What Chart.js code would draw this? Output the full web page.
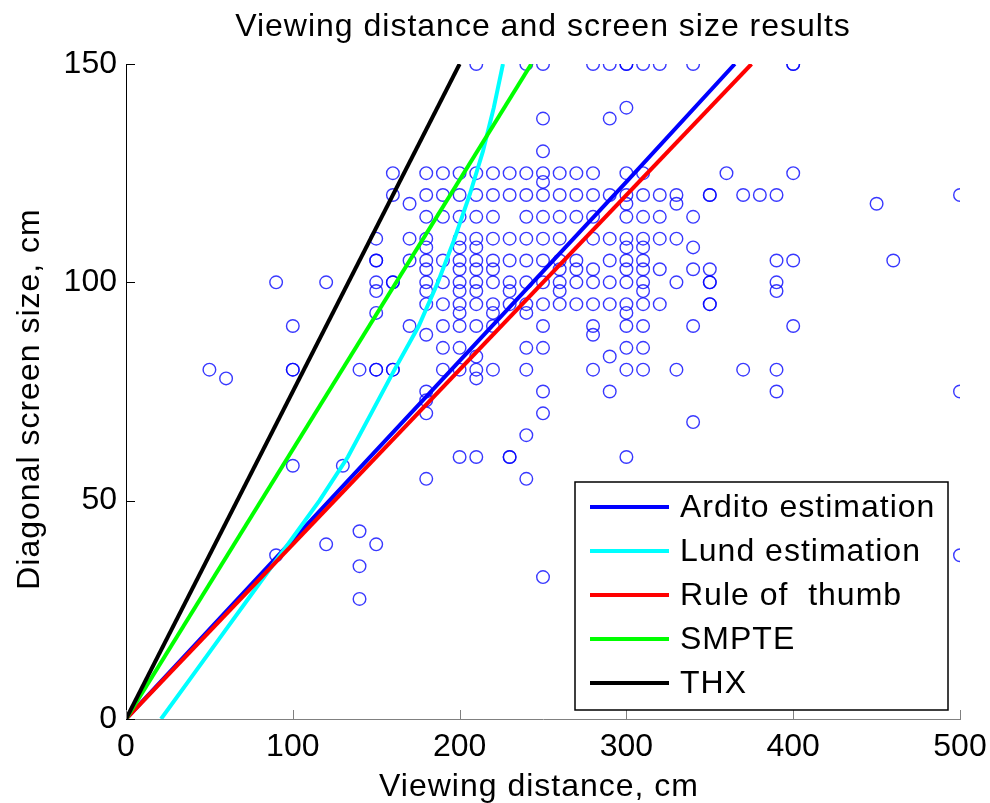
<!DOCTYPE html>
<html>
<head>
<meta charset="utf-8">
<script src="https://cdn.jsdelivr.net/npm/chart.js@4.4.1/dist/chart.umd.min.js"></script>
<style>
  html, body { margin: 0; padding: 0; background: #ffffff; }
  #wrap { width: 990px; height: 803px; }
</style>
</head>
<body>
<div id="wrap"><canvas id="c" width="990" height="803"></canvas></div>
<script>
// ---- texts and axes ----
const chartTitle = 'Viewing distance and screen size results';
const xTitle = 'Viewing distance, cm';
const yTitle = 'Diagonal screen size, cm';
const xTicks = [0, 100, 200, 300, 400, 500];
const yTicks = [0, 50, 100, 150];

// ---- survey answers: for each screen size, the distances reported ----
const sizeLevels = [150, 140, 137.5, 130, 125, 123, 120, 118, 115, 110, 108, 105, 103, 100, 98, 95, 93, 90, 88, 85, 83, 80, 78, 75, 73, 70, 68, 65, 60, 58, 55, 43, 40, 37.5, 35, 32.5, 27.5];
const distancesAtSize = [
  [210, 240, 250, 280, 290, 300, 300, 310, 320, 340, 400, 400],
  [300],
  [250, 290],
  [250],
  [160, 180, 190, 200, 210, 220, 230, 240, 250, 260, 270, 280, 300, 310, 360, 400],
  [250],
  [160, 180, 190, 200, 210, 220, 230, 240, 250, 260, 270, 280, 290, 300, 310, 320, 330, 350, 350, 370, 380, 390, 500],
  [170, 300, 330, 450],
  [180, 190, 200, 210, 220, 240, 250, 260, 270, 280, 300, 310, 320, 340],
  [150, 170, 180, 200, 210, 220, 230, 240, 250, 260, 280, 290, 300, 310, 320, 330],
  [180, 200, 210, 300, 310, 340],
  [150, 150, 170, 180, 190, 200, 210, 220, 230, 240, 250, 260, 270, 290, 300, 310, 390, 400, 460],
  [180, 200, 210, 220, 260, 270, 280, 300, 310, 320, 340, 350],
  [90, 120, 150, 160, 160, 180, 190, 200, 210, 220, 230, 240, 250, 260, 270, 280, 290, 300, 310, 330, 350, 350, 390],
  [150, 180, 200, 210, 230, 260, 310, 390],
  [180, 190, 200, 210, 220, 230, 240, 250, 260, 270, 280, 290, 300, 310, 320, 350, 350],
  [150, 200, 220, 240, 300],
  [100, 170, 190, 200, 210, 220, 250, 280, 300, 310, 340, 400],
  [180, 280],
  [190, 200, 240, 250, 300, 310],
  [210, 290],
  [50, 100, 100, 140, 150, 150, 160, 160, 190, 200, 210, 220, 240, 280, 300, 310, 330, 370, 390],
  [60, 210],
  [180, 250, 290, 390, 500],
  [180],
  [180, 250],
  [340],
  [240],
  [200, 210, 230, 230, 300],
  [100, 130],
  [180, 240],
  [140],
  [120, 150],
  [90, 500],
  [140],
  [250],
  [140]
];

// ---- recommendation curves (distance, size) ----
const arditoDistance = [0, 100, 200, 300, 365];
const arditoSize     = [0, 41, 82, 123, 150];
const lundDistance   = [21, 40, 59, 78, 97, 116, 133, 147, 161, 175.5, 187, 197, 206, 214, 220.5, 226];
const lundSize       = [0, 10, 20, 30, 40, 50, 60, 70, 80, 90, 100, 110, 120, 130, 140, 150];
const ruleDistance   = [0, 375];
const ruleSize       = [0, 150];
const smpteDistance  = [0, 243];
const smpteSize      = [0, 150];
const thxDistance    = [0, 200];
const thxSize        = [0, 150];

const FONT = "'Liberation Sans', Arial, Helvetica, sans-serif";

function pairs(xs, ys) { return xs.map((x, i) => ({ x: x, y: ys[i] })); }

const surveyPoints = [];
sizeLevels.forEach((s, i) => distancesAtSize[i].forEach(d => surveyPoints.push({ x: d, y: s })));

function curve(label, xs, ys, color, order) {
  return {
    label: label, data: pairs(xs, ys), showLine: true, borderColor: color,
    backgroundColor: color, borderWidth: 4, pointRadius: 0, tension: 0,
    order: order, inLegend: true
  };
}

// Axis ticks pointing into the plot, plus the axis titles, chart title and legend box
const decorations = {
  id: 'decorations',
  afterDraw(chart) {
    const ctx = chart.ctx;
    const area = chart.chartArea;
    const xs = chart.scales.x, ys = chart.scales.y;
    ctx.save();
    ctx.lineWidth = 1;
    ctx.strokeStyle = '#000000';
    yTicks.forEach(v => {
      const py = Math.round(ys.getPixelForValue(v)) + 0.5;
      ctx.beginPath(); ctx.moveTo(area.left, py); ctx.lineTo(area.left + 9, py); ctx.stroke();
    });
    ctx.strokeStyle = '#808080';
    xTicks.forEach(v => {
      const px = Math.round(xs.getPixelForValue(v)) + 0.5;
      ctx.beginPath(); ctx.moveTo(px, area.bottom); ctx.lineTo(px, area.bottom - 9); ctx.stroke();
    });

    ctx.fillStyle = '#000000';
    ctx.letterSpacing = '1px';
    ctx.font = '32px ' + FONT;
    ctx.textAlign = 'center';
    ctx.textBaseline = 'middle';
    const cx = (area.left + area.right) / 2;
    ctx.fillText(chartTitle, cx, 27);
    ctx.textBaseline = 'alphabetic';
    ctx.fillText(xTitle, cx - 4, 796);
    ctx.save();
    ctx.translate(30, 399);
    ctx.rotate(-Math.PI / 2);
    ctx.textBaseline = 'middle';
    ctx.fillText(yTitle, 0, 0);
    ctx.restore();

    // legend
    const items = chart.data.datasets.filter(d => d.inLegend);
    const box = { left: 575, top: 482, right: 948, bottom: 710 };
    ctx.fillStyle = '#ffffff';
    ctx.fillRect(box.left, box.top, box.right - box.left, box.bottom - box.top);
    ctx.strokeStyle = '#000000';
    ctx.lineWidth = 1.5;
    ctx.strokeRect(box.left, box.top, box.right - box.left, box.bottom - box.top);
    ctx.textAlign = 'left';
    ctx.textBaseline = 'middle';
    items.forEach((d, i) => {
      const y = 507 + i * 44;
      ctx.strokeStyle = d.borderColor;
      ctx.lineWidth = 4;
      ctx.beginPath(); ctx.moveTo(590, y); ctx.lineTo(669, y); ctx.stroke();
      ctx.fillStyle = '#000000';
      ctx.fillText(d.label, 680, y + 1);
    });
    ctx.restore();
  }
};

new Chart(document.getElementById('c'), {
  type: 'scatter',
  data: {
    datasets: [
      curve('Ardito estimation', arditoDistance, arditoSize, '#0000ff', 5),
      curve('Lund estimation', lundDistance, lundSize, '#00ffff', 4),
      curve('Rule of  thumb', ruleDistance, ruleSize, '#ff0000', 3),
      curve('SMPTE', smpteDistance, smpteSize, '#00ff00', 2),
      curve('THX', thxDistance, thxSize, '#000000', 1),
      {
        label: 'Survey', data: surveyPoints, order: 10,
        pointStyle: 'circle', pointRadius: 6.3,
        pointBorderColor: 'rgba(0,0,255,0.78)', pointBackgroundColor: 'rgba(0,0,0,0)',
        pointBorderWidth: 1.4, borderColor: 'rgba(0,0,255,0.78)', backgroundColor: 'rgba(0,0,0,0)'
      }
    ]
  },
  options: {
    responsive: false,
    animation: false,
    events: [],
    layout: { padding: { top: 64, right: 30, bottom: 0, left: 0 } },
    plugins: { legend: { display: false }, tooltip: { enabled: false }, title: { display: false } },
    scales: {
      x: {
        type: 'linear', min: 0, max: 500,
        afterBuildTicks: s => { s.ticks = xTicks.map(v => ({ value: v })); },
        afterFit: s => { s.height = 84; s.paddingLeft = 0; s.paddingRight = 0; },
        ticks: { font: { family: FONT, size: 32 }, color: '#000000', padding: 9, maxRotation: 0 },
        grid: { display: true, drawOnChartArea: false, drawTicks: false },
        border: { display: true, color: '#808080', width: 1 }
      },
      y: {
        type: 'linear', min: 0, max: 150,
        afterBuildTicks: s => { s.ticks = yTicks.map(v => ({ value: v })); },
        afterFit: s => { s.width = 126; s.paddingTop = 0; s.paddingBottom = 0; },
        ticks: { font: { family: FONT, size: 32 }, color: '#000000', padding: 9 },
        grid: { display: true, drawOnChartArea: false, drawTicks: false },
        border: { display: true, color: '#000000', width: 1 }
      }
    }
  },
  plugins: [decorations]
});
</script>
</body>
</html>
